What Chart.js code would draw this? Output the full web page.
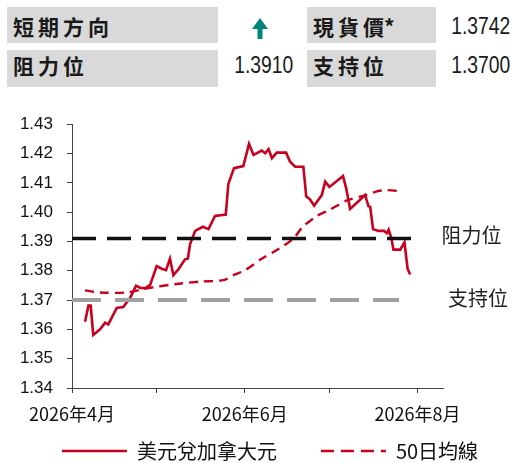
<!DOCTYPE html>
<html>
<head>
<meta charset="utf-8">
<script src="https://cdn.jsdelivr.net/npm/chart.js@4"></script>
<style>
  html, body { margin: 0; padding: 0; width: 517px; height: 463px; overflow: hidden; background: #fff; }
  .cell { position: absolute; background: #d9d9d9; }
  .lbl { position: absolute; font-family: "Noto Sans CJK TC", sans-serif; font-weight: bold; font-size: 21px; letter-spacing: 4px; color: #1a1a1a; line-height: 21px; white-space: nowrap; }
  .num { position: absolute; font-family: "Liberation Sans", Arial, sans-serif; font-size: 23px; color: #1a1a1a; line-height: 23px; transform: scaleX(0.84); transform-origin: right center; white-space: nowrap; }
  #chartWrap { position: absolute; left: 0; top: 100px; width: 517px; height: 363px; }
</style>
</head>
<body>
<div class="cell" style="left:7px;top:7px;width:211px;height:36px"></div>
<div class="cell" style="left:7px;top:50px;width:211px;height:37px"></div>
<div class="cell" style="left:307px;top:7px;width:129px;height:36px"></div>
<div class="cell" style="left:307px;top:50px;width:129px;height:37px"></div>
<div class="lbl" style="left:13px;top:16px">短期方向</div>
<div class="lbl" style="left:13px;top:55px">阻力位</div>
<div class="lbl" style="left:313px;top:16px">現貨<span style="letter-spacing:0">價</span>*</div>
<div class="lbl" style="left:313px;top:55px">支持位</div>
<svg style="position:absolute;left:251px;top:17px" width="18" height="23" viewBox="0 0 18 23">
  <polygon points="9,1 17,12 11.5,12 11.5,22 6.5,22 6.5,12 1,12" fill="#00857c"/>
</svg>
<div class="num" style="right:7px;top:15px">1.3742</div>
<div class="num" style="right:224px;top:54px">1.3910</div>
<div class="num" style="right:7px;top:54px">1.3700</div>
<div id="chartWrap"><canvas id="c" width="517" height="363"></canvas></div>
<script>
// ---- data (days counted from 2026-04-01) ----
const fxDays = [4.6, 5.8, 6.6, 7.5, 9.9, 11.7, 12.8, 14.0, 15.8, 18.1, 20.5, 22.6, 24.0, 25.8, 27.6, 29.9, 31.7, 33.2, 34.6, 35.8, 37.6, 39.9, 40.9, 41.7, 43.5, 46.2, 48.2, 50.5, 54.3, 55.2, 57.2, 60.5, 62.5, 64.1, 67.0, 68.2, 69.4, 70.6, 72.3, 75.6, 77.0, 78.8, 81.7, 82.7, 84.1, 85.5, 88.2, 89.4, 90.9, 95.7, 96.8, 98.2, 103.5, 104.7, 105.3, 106.3, 108.2, 110.2, 111.2, 111.8, 112.7, 113.5, 115.9, 117.4, 118.5, 119.4];
const fxValues = [1.3626, 1.3681, 1.3681, 1.3581, 1.3600, 1.3623, 1.3617, 1.3639, 1.3673, 1.3676, 1.3707, 1.3749, 1.3742, 1.3740, 1.3752, 1.3816, 1.3807, 1.3802, 1.3841, 1.3785, 1.3805, 1.3839, 1.3841, 1.3891, 1.3936, 1.3950, 1.3942, 1.3987, 1.3992, 1.4096, 1.4150, 1.4157, 1.4233, 1.4195, 1.4210, 1.4201, 1.4215, 1.4184, 1.4203, 1.4203, 1.4172, 1.4155, 1.4155, 1.4054, 1.4043, 1.4022, 1.4058, 1.4104, 1.4086, 1.4123, 1.4082, 1.4011, 1.4058, 1.4020, 1.4018, 1.3942, 1.3936, 1.3936, 1.3928, 1.3940, 1.3914, 1.3872, 1.3872, 1.3897, 1.3807, 1.3787];
const maDays = [4.6, 9.9, 19.3, 26.4, 37.0, 45.2, 53.5, 57.0, 61.1, 67.0, 72.9, 78.2, 81.2, 86.5, 91.2, 97.1, 103.8, 107.7, 111.2, 116.5];
const maValues = [1.3733, 1.3726, 1.3726, 1.3740, 1.3755, 1.3763, 1.3768, 1.3785, 1.3802, 1.3841, 1.3874, 1.3910, 1.3947, 1.3987, 1.4009, 1.4040, 1.4058, 1.4071, 1.4075, 1.4071];
const seriesNames = ['美元兌加拿大元', '50日均線'];
const levelNames = ['阻力位', '支持位'];
const levelValues = [1.3910, 1.3700];
const levelSpans = [[0, 120.8], [0, 115.5]];
const xTickDays = [0, 30, 61, 91, 122];
const xTickLabels = ['2026年4月', '', '2026年6月', '', '2026年8月'];
const yMin = 1.34, yMax = 1.43, yStep = 0.01;
const xMax = 131;

const toPts = (xs, ys) => xs.map((x, i) => ({ x: x, y: ys[i] }));
const levelPts = (i) => levelSpans[i].map(x => ({ x: x, y: levelValues[i] }));

const RED = '#c8001e';
const cjk = '"Noto Sans CJK TC", "Noto Sans", sans-serif';

// labels next to the level lines
const levelLabelPlugin = {
  id: 'levelLabels',
  afterDraw(chart) {
    const ctx = chart.ctx;
    const y = chart.scales.y;
    const right = chart.chartArea.right;
    const offs = [-1.5, 5];
    const dy = [-3, -2];
    ctx.save();
    ctx.font = '20px ' + cjk;
    ctx.fillStyle = '#222';
    ctx.textBaseline = 'middle';
    ctx.textAlign = 'left';
    levelNames.forEach((n, i) => {
      ctx.fillText(n, right + offs[i], y.getPixelForValue(levelValues[i]) + dy[i]);
    });
    ctx.restore();
  }
};

// legend for the two series, drawn below the axis
const legendPlugin = {
  id: 'seriesLegend',
  afterDraw(chart) {
    const ctx = chart.ctx;
    const sample = 65, gapText = 10, gapItem = 44;
    const legendDash = [[], [13, 7]];
    const cy = chart.height - 12;
    ctx.save();
    ctx.font = '20px ' + cjk;
    const items = [0, 1].map(i => ({ ds: chart.data.datasets[i], w: ctx.measureText(chart.data.datasets[i].label).width }));
    const total = items.reduce((s, it) => s + sample + gapText + it.w, 0) + gapItem;
    let x = 270 - total / 2;
    items.forEach((it, i) => {
      ctx.beginPath();
      ctx.strokeStyle = it.ds.borderColor;
      ctx.lineWidth = 2.6;
      ctx.setLineDash(legendDash[i]);
      ctx.moveTo(x, cy);
      ctx.lineTo(x + sample, cy);
      ctx.stroke();
      ctx.setLineDash([]);
      ctx.fillStyle = '#111';
      ctx.textBaseline = 'middle';
      ctx.textAlign = 'left';
      ctx.fillText(it.ds.label, x + sample + gapText, cy);
      x += sample + gapText + it.w + gapItem;
    });
    ctx.restore();
  }
};

new Chart(document.getElementById('c'), {
  type: 'line',
  data: {
    datasets: [
      { label: seriesNames[0], data: toPts(fxDays, fxValues), borderColor: RED, backgroundColor: RED, borderWidth: 2.6, pointRadius: 0, tension: 0, order: 1 },
      { label: seriesNames[1], data: toPts(maDays, maValues), borderColor: RED, backgroundColor: RED, borderWidth: 2.4, borderDash: [9, 6], pointRadius: 0, tension: 0.3, order: 2 },
      { label: levelNames[0], data: levelPts(0), borderColor: '#111', borderWidth: 3.5, borderDash: [24, 11], pointRadius: 0, order: 0 },
      { label: levelNames[1], data: levelPts(1), borderColor: '#a0a0a0', borderWidth: 4, borderDash: [29, 14], pointRadius: 0, order: 0 }
    ]
  },
  options: {
    responsive: false,
    animation: false,
    devicePixelRatio: 1,
    layout: { padding: { left: 0, right: 0, top: 21, bottom: 35 } },
    scales: {
      x: {
        type: 'linear', min: 0, max: xMax,
        afterBuildTicks: (s) => { s.ticks = xTickDays.map(v => ({ value: v })); },
        afterFit: (s) => { s.height = 40; },
        grid: { display: true, drawOnChartArea: false, drawTicks: true, tickLength: 5, color: '#444' },
        border: { display: true, color: '#444', width: 1 },
        ticks: {
          autoSkip: false, maxRotation: 0, padding: 10, color: '#111',
          font: { family: cjk, size: 18 },
          callback: (v) => { const i = xTickDays.indexOf(v); return i >= 0 ? xTickLabels[i] : ''; }
        }
      },
      y: {
        min: yMin, max: yMax,
        afterFit: (s) => { s.width = 72; },
        grid: { display: true, drawOnChartArea: false, drawTicks: true, tickLength: 5, color: '#444' },
        border: { display: true, color: '#444', width: 1 },
        ticks: {
          stepSize: yStep, padding: 14, color: '#111', autoSkip: false,
          font: { family: '"Liberation Sans", Arial, sans-serif', size: 17 },
          callback: (v) => Number(v).toFixed(2)
        }
      },
      y2: {
        position: 'right', min: yMin, max: yMax,
        afterFit: (s) => { s.width = 74; },
        grid: { display: false }, border: { display: false }, ticks: { display: false }
      }
    },
    plugins: {
      tooltip: { enabled: false },
      legend: { display: false }
    }
  },
  plugins: [levelLabelPlugin, legendPlugin]
});
</script>
</body>
</html>
